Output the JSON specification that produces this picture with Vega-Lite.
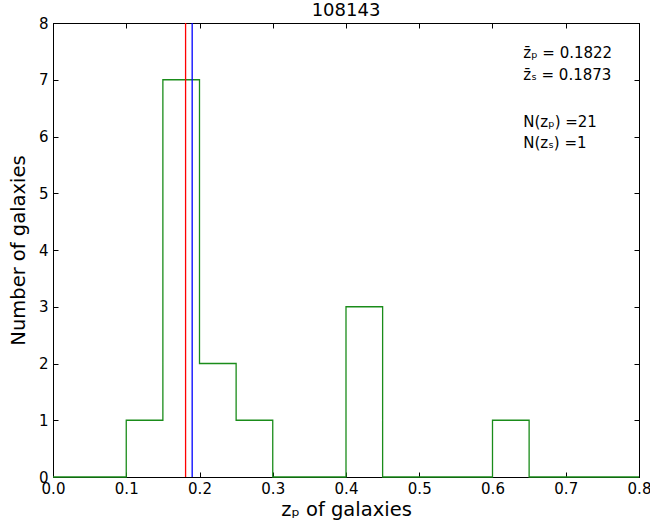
{
  "$schema": "https://vega.github.io/schema/vega-lite/v6.json",
  "width": 586,
  "height": 454,
  "autosize": {"type": "none"},
  "padding": {"left": 53, "top": 23, "right": 11, "bottom": 52},
  "background": "white",
  "config": {
    "font": "DejaVu Sans",
    "view": {"stroke": "black", "strokeWidth": 1},
    "axis": {"grid": false, "domainColor": "black", "tickColor": "black", "labelColor": "black", "titleColor": "black", "labelFont": "DejaVu Sans", "titleFont": "DejaVu Sans", "labelFontSize": 15, "titleFontSize": 19.5, "titleFontWeight": "normal", "tickSize": -5, "labelPadding": 12, "labelFlush": false, "labelOverlap": false}
  },
  "title": {"text": "108143", "fontSize": 18, "fontWeight": "normal", "font": "DejaVu Sans", "offset": -4, "color": "black"},
  "datasets": {
    "hist": [
      {"z": 0.0, "n": 0}, {"z": 0.05, "n": 0}, {"z": 0.1, "n": 1}, {"z": 0.15, "n": 7},
      {"z": 0.2, "n": 2}, {"z": 0.25, "n": 1}, {"z": 0.3, "n": 0}, {"z": 0.35, "n": 0},
      {"z": 0.4, "n": 3}, {"z": 0.45, "n": 0}, {"z": 0.5, "n": 0}, {"z": 0.55, "n": 0},
      {"z": 0.6, "n": 1}, {"z": 0.65, "n": 0}, {"z": 0.7, "n": 0}, {"z": 0.75, "n": 0},
      {"z": 0.8, "n": 0}
    ],
    "means": [
      {"z": 0.181, "kind": "zp"},
      {"z": 0.190, "kind": "zs"}
    ],
    "notes": [
      {"x": 0.642, "y": 7.47, "label": "z̄ₚ = 0.1822"},
      {"x": 0.642, "y": 7.08, "label": "z̄ₛ = 0.1873"},
      {"x": 0.642, "y": 6.26, "label": "N(zₚ) =21"},
      {"x": 0.642, "y": 5.89, "label": "N(zₛ) =1"}
    ]
  },
  "layer": [
    {
      "data": {"name": "hist"},
      "mark": {"type": "line", "interpolate": "step-after", "color": "#1a8c1a", "strokeWidth": 1.3},
      "encoding": {
        "x": {"field": "z", "type": "quantitative", "scale": {"domain": [0, 0.8], "nice": false, "zero": false},
          "axis": {"orient": "bottom", "title": "zₚ of galaxies", "values": [0, 0.1, 0.2, 0.3, 0.4, 0.5, 0.6, 0.7, 0.8], "format": ".1f", "labelPadding": 9, "titlePadding": 4}},
        "y": {"field": "n", "type": "quantitative", "scale": {"domain": [0, 8], "nice": false},
          "axis": {"orient": "left", "title": "Number of galaxies", "values": [0, 1, 2, 3, 4, 5, 6, 7, 8], "labelPadding": 10, "titlePadding": 10}}
      }
    },
    {
      "data": {"name": "means"},
      "mark": {"type": "rule", "strokeWidth": 1.3},
      "encoding": {
        "x": {"field": "z", "type": "quantitative",
          "axis": {"orient": "top", "title": null, "labels": false, "values": [0, 0.1, 0.2, 0.3, 0.4, 0.5, 0.6, 0.7, 0.8]}},
        "color": {"field": "kind", "type": "nominal", "scale": {"domain": ["zp", "zs"], "range": ["#ff0000", "#0000ff"]}, "legend": null}
      }
    },
    {
      "data": {"name": "notes"},
      "mark": {"type": "text", "align": "left", "baseline": "middle", "fontSize": 15, "font": "DejaVu Sans", "color": "black"},
      "encoding": {
        "x": {"field": "x", "type": "quantitative", "axis": null},
        "y": {"field": "y", "type": "quantitative",
          "axis": {"orient": "right", "title": null, "labels": false, "values": [0, 1, 2, 3, 4, 5, 6, 7, 8]}},
        "text": {"field": "label"}
      }
    }
  ],
  "resolve": {"axis": {"x": "independent", "y": "independent"}}
}
